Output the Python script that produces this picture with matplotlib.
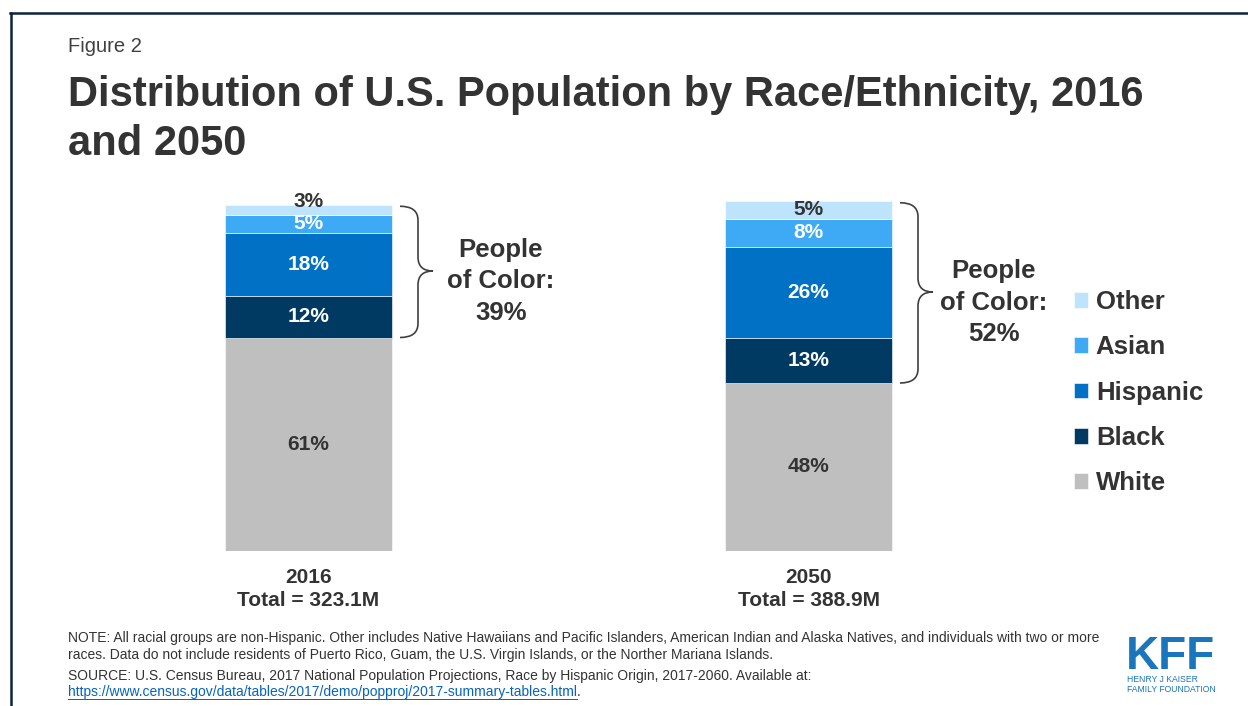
import matplotlib
matplotlib.use("Agg")
import matplotlib.pyplot as plt
from matplotlib.path import Path
from matplotlib.patches import PathPatch
from matplotlib.lines import Line2D

# ---- data -------------------------------------------------------------
years = ["2016", "2050"]
totals = ["323.1M", "388.9M"]
groups = ["White", "Black", "Hispanic", "Asian", "Other"]
white = [61, 48]
black = [12, 13]
hispanic = [18, 26]
asian = [5, 8]
other = [3, 5]
people_of_color = [39, 52]

colors = {"White": "#bfbfbf", "Black": "#003a63", "Hispanic": "#0071c5",
          "Asian": "#3ea9f5", "Other": "#bee4fd"}
label_colors = {"White": "#333333", "Black": "white", "Hispanic": "white",
                "Asian": "white", "Other": "#333333"}

W, H = 1248, 706
plt.rcParams["font.family"] = ["Liberation Sans", "DejaVu Sans"]
TXT = "#333333"


def fx(px):
    return px / W


def fy(py):
    return 1 - py / H


fig = plt.figure(figsize=(W / 100, H / 100), dpi=100)
fig.patch.set_facecolor("white")

# axes: 0% at y=551px, 100% at y=201px; bars 500 px apart
x0_px = 308.5 - 250
ax = fig.add_axes([fx(x0_px), fy(551), 1 - fx(x0_px), 350 / H])
ax.set_xlim(-0.5, -0.5 + (W - x0_px) / 500)
ax.set_ylim(0, 100)
for s in ax.spines.values():
    s.set_visible(False)
ax.set_yticks([])

xpos = list(range(len(years)))
bar_w = 167 / 500
series = {"White": white, "Black": black, "Hispanic": hispanic,
          "Asian": asian, "Other": other}
bottoms = [0] * len(years)
handles = {}
for g in groups:
    vals = series[g]
    bc = ax.bar(xpos, vals, bar_w, bottom=bottoms, color=colors[g],
                edgecolor="white", linewidth=0.4, label=g)
    handles[g] = bc
    texts = ax.bar_label(bc, labels=[f"{v}%" for v in vals], label_type="center",
                         color=label_colors[g], fontsize=15, fontweight="bold")
    # thin slivers: lift the label so it sits on the top edge
    for v, t in zip(vals, texts):
        if v < 4:
            t.xyann = (0, 6)
    bottoms = [b + v for b, v in zip(bottoms, vals)]

ax.set_xticks(xpos)
ax.set_xticklabels([f"{y}\nTotal = {t}" for y, t in zip(years, totals)],
                   fontsize=15, fontweight="bold", color=TXT, linespacing=1.25)
ax.tick_params(axis="x", length=0, pad=12.5)

# curly braces around the people-of-color segments
text_dx = [192.5 / 500, 185 / 500]
for i, (wv, tot, poc) in enumerate(zip(white, bottoms, people_of_color)):
    xe = i + bar_w / 2 + 8 / 500
    xv = xe + 18 / 500
    xt = xe + 33 / 500
    top = tot - 0.5
    bot = wv
    mid = (wv + tot) / 2
    r = 4.0
    verts = [(xe, top), (xv, top), (xv, top - r), (xv, mid + r),
             (xv, mid), (xt, mid), (xv, mid), (xv, mid - r),
             (xv, bot + r), (xv, bot), (xe, bot)]
    codes = [Path.MOVETO, Path.CURVE3, Path.CURVE3, Path.LINETO,
             Path.CURVE3, Path.CURVE3, Path.CURVE3, Path.CURVE3,
             Path.LINETO, Path.CURVE3, Path.CURVE3]
    ax.add_patch(PathPatch(Path(verts, codes), fill=False, edgecolor="#404040",
                           linewidth=1.2, clip_on=False))
    ax.text(i + text_dx[i], mid - 3.0, f"People\nof Color:\n{poc}%",
            ha="center", va="center", fontsize=18.5, fontweight="bold",
            color=TXT, linespacing=1.38)

# legend (top entry first)
leg = ax.legend([handles[g] for g in groups[::-1]], groups[::-1],
                loc="upper left", bbox_to_anchor=(fx(1074), fy(290)),
                bbox_transform=fig.transFigure, frameon=False,
                prop={"size": 18.5, "weight": "bold"}, handlelength=0.55,
                handleheight=0.55, handletextpad=0.3, labelspacing=0.83,
                borderpad=0, borderaxespad=0)
for t in leg.get_texts():
    t.set_color(TXT)

# titles
fig.text(fx(68), fy(46), "Figure 2", fontsize=14.5, color="#404040",
         ha="left", va="center")
fig.text(fx(68), fy(75), "Distribution of U.S. Population by Race/Ethnicity, 2016\nand 2050",
         fontsize=30, fontweight="bold", color=TXT, ha="left", va="top",
         linespacing=1.28)

# notes
note_fs = 10
fig.text(fx(68), fy(638), "NOTE: All racial groups are non-Hispanic. Other includes Native Hawaiians and Pacific Islanders, "
         "American Indian and Alaska Natives, and individuals with two or more",
         fontsize=note_fs, color=TXT, va="center")
fig.text(fx(68), fy(655), "races. Data do not include residents of Puerto Rico, Guam, the U.S. Virgin Islands, "
         "or the Norther Mariana Islands.", fontsize=note_fs, color=TXT, va="center")
fig.text(fx(68), fy(676), "SOURCE: U.S. Census Bureau, 2017 National Population Projections, Race by Hispanic Origin, "
         "2017-2060. Available at:", fontsize=note_fs, color=TXT, va="center")
link = fig.text(fx(68), fy(692), "https://www.census.gov/data/tables/2017/demo/popproj/2017-summary-tables.html",
                fontsize=note_fs, color="#0563c1", va="center")
fig.canvas.draw()
bb = link.get_window_extent()
fig.add_artist(Line2D([bb.x0 / W, bb.x1 / W], [fy(699), fy(699)], color="#0563c1",
                      linewidth=0.7, transform=fig.transFigure))
fig.text(bb.x1 / W, fy(692), ".", fontsize=note_fs, color=TXT, va="center")

# logo
kff_blue = "#1a76bc"
fig.text(fx(1126), fy(669), "KFF", fontsize=33, fontweight="bold",
         family=["Liberation Sans Narrow", "Liberation Sans"], color=kff_blue,
         ha="left", va="baseline")
fig.text(fx(1127), fy(679), "HENRY J KAISER", fontsize=6.2, color=kff_blue,
         family=["Liberation Sans Narrow", "Liberation Sans"], va="center")
fig.text(fx(1127), fy(689), "FAMILY FOUNDATION", fontsize=6.2, color=kff_blue,
         family=["Liberation Sans Narrow", "Liberation Sans"], va="center")

# frame lines
navy = "#0c2340"
fig.add_artist(Line2D([fx(10), 1], [fy(12.5), fy(12.5)], color=navy,
                      linewidth=1.8, transform=fig.transFigure))
fig.add_artist(Line2D([fx(10.5), fx(10.5)], [fy(12.5), 0], color=navy,
                      linewidth=1.8, transform=fig.transFigure))

fig.savefig("out.png", dpi=100)
